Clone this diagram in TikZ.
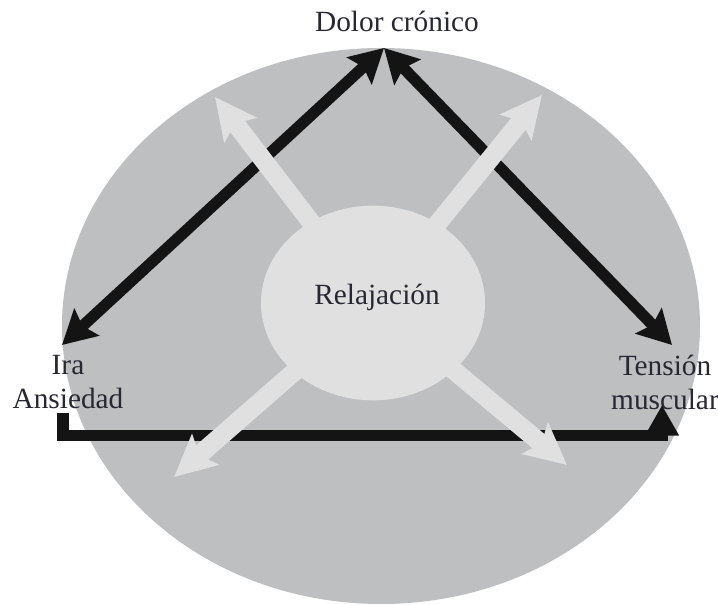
\documentclass[tikz,border=0pt]{standalone}
\usepackage{fontspec}
\setmainfont{Liberation Serif}
\usetikzlibrary{arrows.meta,shapes.geometric}
\begin{document}
\begin{tikzpicture}[x=0.75pt,y=-0.75pt,
  lbl/.style={font=\fontsize{22}{25.5}\selectfont, text=txt, inner sep=0pt},
  blk/.style={draw=black!92, line width=8.5pt},
  blkhead/.tip={Stealth[length=25pt,width=27pt,inset=4pt]},
  lt/.style={draw=lightfill, line width=14pt},
  lthead/.tip={Stealth[length=31pt,width=30pt,inset=6pt]}]
\definecolor{bigfill}{RGB}{190,191,193}
\definecolor{lightfill}{RGB}{224,224,224}
\definecolor{txt}{RGB}{40,40,50}
\useasboundingbox (0,0) rectangle (718,605);
\fill[white] (0,0) rectangle (718,605);
\fill[bigfill] (381,326) ellipse [x radius=319, y radius=278];

% labels
\node[lbl, anchor=base] (dolor) at (397,32) {Dolor crónico};
\node[lbl, align=center] (ira) at (68,382) {Ira\\Ansiedad};
\node[lbl, align=center] (tension) at (665,382) {Tensión\\muscular};

% anchor points
\coordinate (top) at (384,48);
\coordinate (irat) at (62,345);
\coordinate (tent) at (672,345);
\coordinate (bstart) at (63,413);
\coordinate (bend) at (662,405);

% black arrows
\draw[blk, blkhead-blkhead] (irat) -- (top);
\draw[blk, blkhead-blkhead] (top) -- (tent);
\draw[blk, line join=miter, -{Triangle[length=23pt,width=24pt]}] (bstart) |- ([yshift=-23pt]bend) -- (bend);

% light arrows
\coordinate (c) at (373,303);
\coordinate (ul) at (215,97);
\coordinate (ur) at (542,95);
\coordinate (dl) at (174,477);
\coordinate (dr) at (567,465);
\foreach \t in {ul,ur,dl,dr}
  \draw[lt, -lthead] (c) -- (\t);

% central circle
\node[ellipse, fill=lightfill, minimum width=168pt, minimum height=146pt, inner sep=0pt] (relax) at (c) {};
\node[lbl] (relaxt) at (377,297) {Relajación};
\end{tikzpicture}
\end{document}
